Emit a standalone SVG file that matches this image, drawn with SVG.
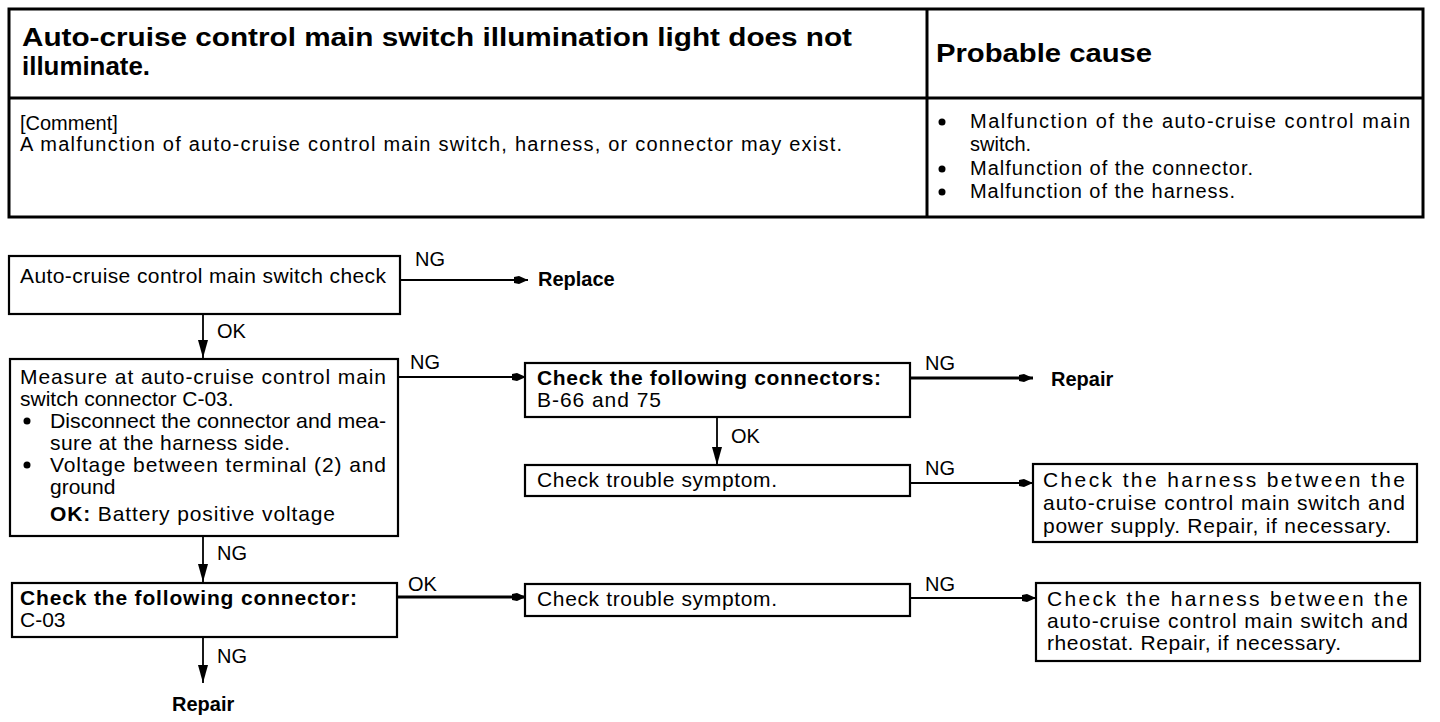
<svg xmlns="http://www.w3.org/2000/svg" width="1440" height="722" viewBox="0 0 1440 722">
<style>
text{font-family:"Liberation Sans",Arial,sans-serif;fill:#000}
.t{font-size:21px}
.c{font-size:20px}
.b{font-weight:bold}
.title{font-size:25px;font-weight:bold}
.lbl{font-size:20px}
.box{fill:#fff;stroke:#000;stroke-width:2.2}
.tbl{fill:none;stroke:#000;stroke-width:3}
.ln{fill:none;stroke:#000;stroke-width:1.8}
.thick{stroke-width:3.2}
</style>
<defs>
<marker id="ah" markerUnits="userSpaceOnUse" markerWidth="16" markerHeight="12" refX="14" refY="6" orient="auto">
<path d="M0,3 L5,2 L14,6 L5,10 L0,9 z" fill="#000"/>
</marker>
<marker id="av" markerUnits="userSpaceOnUse" markerWidth="20" markerHeight="12" refX="18" refY="6" orient="auto">
<path d="M0,1 L18,6 L0,11 z" fill="#000"/>
</marker>
</defs>
<rect width="1440" height="722" fill="#fff"/>

<g id="table">
<rect class="tbl" x="9" y="9" width="1414" height="208"/>
<line class="tbl" x1="9" y1="98" x2="1423" y2="98"/>
<line class="tbl" x1="927" y1="9" x2="927" y2="217"/>
<text class="title" x="22" y="46" textLength="830" lengthAdjust="spacingAndGlyphs">Auto-cruise control main switch illumination light does not</text>
<text class="title" x="22" y="75" textLength="128" lengthAdjust="spacingAndGlyphs">illuminate.</text>
<text class="title" x="936" y="62" textLength="216" lengthAdjust="spacingAndGlyphs">Probable cause</text>
<text class="c" x="20" y="130">[Comment]</text>
<text class="c" x="20" y="151" textLength="822" lengthAdjust="spacing">A malfunction of auto-cruise control main switch, harness, or connector may exist.</text>
<circle cx="942" cy="122" r="3.5"/>
<text class="c" x="970" y="128" textLength="440" lengthAdjust="spacing">Malfunction of the auto-cruise control main</text>
<text class="c" x="970" y="151">switch.</text>
<circle cx="942" cy="169" r="3.5"/>
<text class="c" x="970" y="175" textLength="283" lengthAdjust="spacing">Malfunction of the connector.</text>
<circle cx="942" cy="192" r="3.5"/>
<text class="c" x="970" y="198" textLength="265" lengthAdjust="spacing">Malfunction of the harness.</text>
</g>

<g id="connectors">
<line class="ln" x1="400" y1="280" x2="528" y2="280" marker-end="url(#ah)"/>
<line class="ln" x1="203" y1="314" x2="203" y2="358" marker-end="url(#av)"/>
<line class="ln" x1="398" y1="377" x2="526" y2="377" marker-end="url(#ah)"/>
<line class="ln" x1="203" y1="536" x2="203" y2="582" marker-end="url(#av)"/>
<line class="ln thick" x1="397" y1="597" x2="526" y2="597" marker-end="url(#ah)"/>
<line class="ln" x1="203" y1="637" x2="203" y2="683" marker-end="url(#av)"/>
<line class="ln thick" x1="910" y1="378" x2="1033" y2="378" marker-end="url(#ah)"/>
<line class="ln" x1="717" y1="417" x2="717" y2="465" marker-end="url(#av)"/>
<line class="ln" x1="910" y1="483" x2="1033" y2="483" marker-end="url(#ah)"/>
<line class="ln" x1="910" y1="598" x2="1036" y2="598" marker-end="url(#ah)"/>
<text class="lbl" x="415" y="266">NG</text>
<text class="lbl" x="217" y="338">OK</text>
<text class="lbl" x="410" y="369">NG</text>
<text class="lbl" x="217" y="560">NG</text>
<text class="lbl" x="408" y="591">OK</text>
<text class="lbl" x="217" y="663">NG</text>
<text class="lbl" x="925" y="370">NG</text>
<text class="lbl" x="731" y="443">OK</text>
<text class="lbl" x="925" y="475">NG</text>
<text class="lbl" x="925" y="591">NG</text>
</g>

<g id="n-main-switch-check">
<rect class="box" x="9" y="256" width="391" height="58"/>
<text class="t" x="20" y="283" textLength="366" lengthAdjust="spacing">Auto-cruise control main switch check</text>
</g>

<g id="n-replace">
<text class="lbl b" x="538" y="286">Replace</text>
</g>

<g id="n-measure">
<rect class="box" x="10" y="359" width="388" height="177"/>
<text class="t" x="20" y="384" textLength="366" lengthAdjust="spacing">Measure at auto-cruise control main</text>
<text class="t" x="20" y="406">switch connector C-03.</text>
<circle cx="27" cy="421" r="3.5"/>
<text class="t" x="50" y="428" textLength="336" lengthAdjust="spacingAndGlyphs">Disconnect the connector and mea-</text>
<text class="t" x="50" y="450" textLength="240" lengthAdjust="spacing">sure at the harness side.</text>
<circle cx="27" cy="465" r="3.5"/>
<text class="t" x="50" y="472" textLength="336" lengthAdjust="spacing">Voltage between terminal (2) and</text>
<text class="t" x="50" y="494">ground</text>
<text class="t" x="50" y="521" textLength="285" lengthAdjust="spacing"><tspan class="b">OK:</tspan> Battery positive voltage</text>
</g>

<g id="n-check-c03">
<rect class="box" x="12" y="583" width="385" height="54"/>
<text class="t b" x="20" y="605" textLength="337" lengthAdjust="spacing">Check the following connector:</text>
<text class="t" x="20" y="627">C-03</text>
</g>

<g id="n-repair-1">
<text class="lbl b" x="172" y="711">Repair</text>
</g>

<g id="n-check-b66">
<rect class="box" x="525" y="363" width="385" height="54"/>
<text class="t b" x="537" y="385" textLength="344" lengthAdjust="spacing">Check the following connectors:</text>
<text class="t" x="537" y="407" textLength="124" lengthAdjust="spacing">B-66 and 75</text>
</g>

<g id="n-repair-2">
<text class="lbl b" x="1051" y="386">Repair</text>
</g>

<g id="n-symptom-1">
<rect class="box" x="525" y="465" width="385" height="31"/>
<text class="t" x="537" y="487" textLength="240" lengthAdjust="spacing">Check trouble symptom.</text>
</g>

<g id="n-harness-power">
<rect class="box" x="1033" y="464" width="384" height="78"/>
<text class="t" x="1043" y="487" textLength="362" lengthAdjust="spacing">Check the harness between the</text>
<text class="t" x="1043" y="510" textLength="362" lengthAdjust="spacing">auto-cruise control main switch and</text>
<text class="t" x="1043" y="533" textLength="348" lengthAdjust="spacing">power supply. Repair, if necessary.</text>
</g>

<g id="n-symptom-2">
<rect class="box" x="525" y="584" width="385" height="32"/>
<text class="t" x="537" y="606" textLength="240" lengthAdjust="spacing">Check trouble symptom.</text>
</g>

<g id="n-harness-rheostat">
<rect class="box" x="1036" y="583" width="384" height="78"/>
<text class="t" x="1047" y="606" textLength="361" lengthAdjust="spacing">Check the harness between the</text>
<text class="t" x="1047" y="628" textLength="361" lengthAdjust="spacing">auto-cruise control main switch and</text>
<text class="t" x="1047" y="650" textLength="294" lengthAdjust="spacing">rheostat. Repair, if necessary.</text>
</g>
</svg>
